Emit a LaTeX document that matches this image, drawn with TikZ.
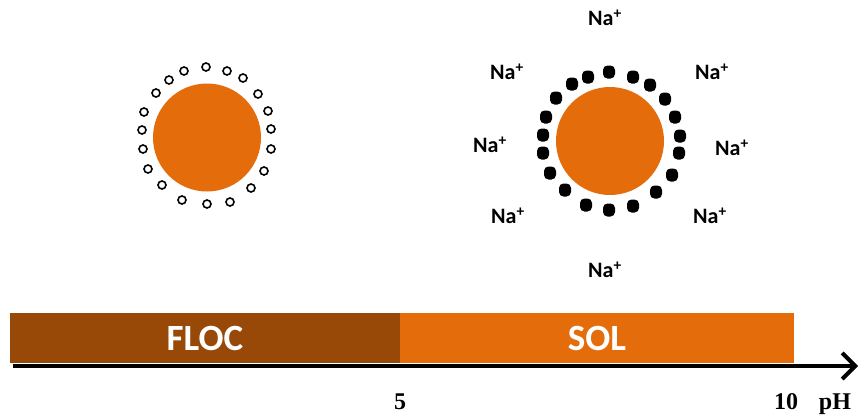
\documentclass[tikz,border=0pt]{standalone}
\usepackage{fontspec}
\setmainfont{Liberation Serif}
\newfontfamily\calib{Carlito}
\usepackage{tikz}
\usetikzlibrary{arrows.meta}
\definecolor{flocbrown}{HTML}{984807}
\definecolor{solorange}{HTML}{E46C0A}

\begin{document}
\begin{tikzpicture}[
    x=1pt, y=-1pt,
    core/.style={
        circle, fill=solorange,
        minimum size=108pt, inner sep=0pt
    },
    openion/.style={
        circle, draw=black, line width=1.6pt, fill=white,
        minimum size=8pt, inner sep=0pt
    },
    solidion/.style={
        rectangle, rounded corners=4.5pt, fill=black,
        minimum width=12pt, minimum height=13pt, inner sep=0pt
    },
    counterion/.style={
        font=\calib\bfseries\fontsize{22}{26}\selectfont, inner sep=0pt
    },
    barseg/.style={
        minimum height=50pt, inner sep=0pt, text=white,
        font=\calib\bfseries\fontsize{37}{40}\selectfont
    },
    ticklbl/.style={
        anchor=base, inner sep=0pt,
        font=\bfseries\fontsize{24}{28}\selectfont
    },
    axis/.style={
        line width=4pt, -{Straight Barb[length=13pt, width=26pt]}
    }
]
\useasboundingbox (0,0) rectangle (860,418);

% floc particle
\node[core] (floccore) at (207,137.5) {};
\foreach \x/\y [count=\i] in {206/67, 227/71, 243/78, 258/94, 268/111,
    271/129, 271/149, 264/171, 251/188, 230/202, 207/204, 182/200,
    162/185, 148/169, 143/149, 142/130, 144/112, 156/93, 169/80, 184/71}
    \node[openion] (oh\i) at (\x,\y) {};

% sol particle
\node[core] (solcore) at (610,141) {};
\foreach \x/\y [count=\i] in {609/72, 633/77, 650/85, 665/99, 675/117,
    680/136, 679/153, 672/175, 656/192, 633/206, 609/210, 586/205,
    565/190, 550/173, 543/153, 543/135, 546/117, 556/98, 572/84, 588/77}
    \node[solidion] (neg\i) at (\x,\y) {};

% sodium counter ions
\foreach \x/\y [count=\i] in {605/18, 507/72, 712/72, 490/145,
    732/148, 508/216, 710/216, 605/270}
    \node[counterion] (na\i) at (\x,\y) {Na\textsuperscript{+}};

% pH bar
\node[barseg, fill=flocbrown, minimum width=390pt] (floc) at (205,338) {FLOC};
\node[barseg, fill=solorange, minimum width=394pt] (sol) at (597,338) {SOL};

% pH axis
\coordinate (axisstart) at (13,366);
\coordinate (axisend) at (858,366);
\draw[axis] (axisstart) -- (axisend);
\node[ticklbl] (ph5) at (400,409) {5};
\node[ticklbl] (ph10) at (786,409) {10};
\node[ticklbl] (phlbl) at (835,409) {pH};

\end{tikzpicture}
\end{document}
